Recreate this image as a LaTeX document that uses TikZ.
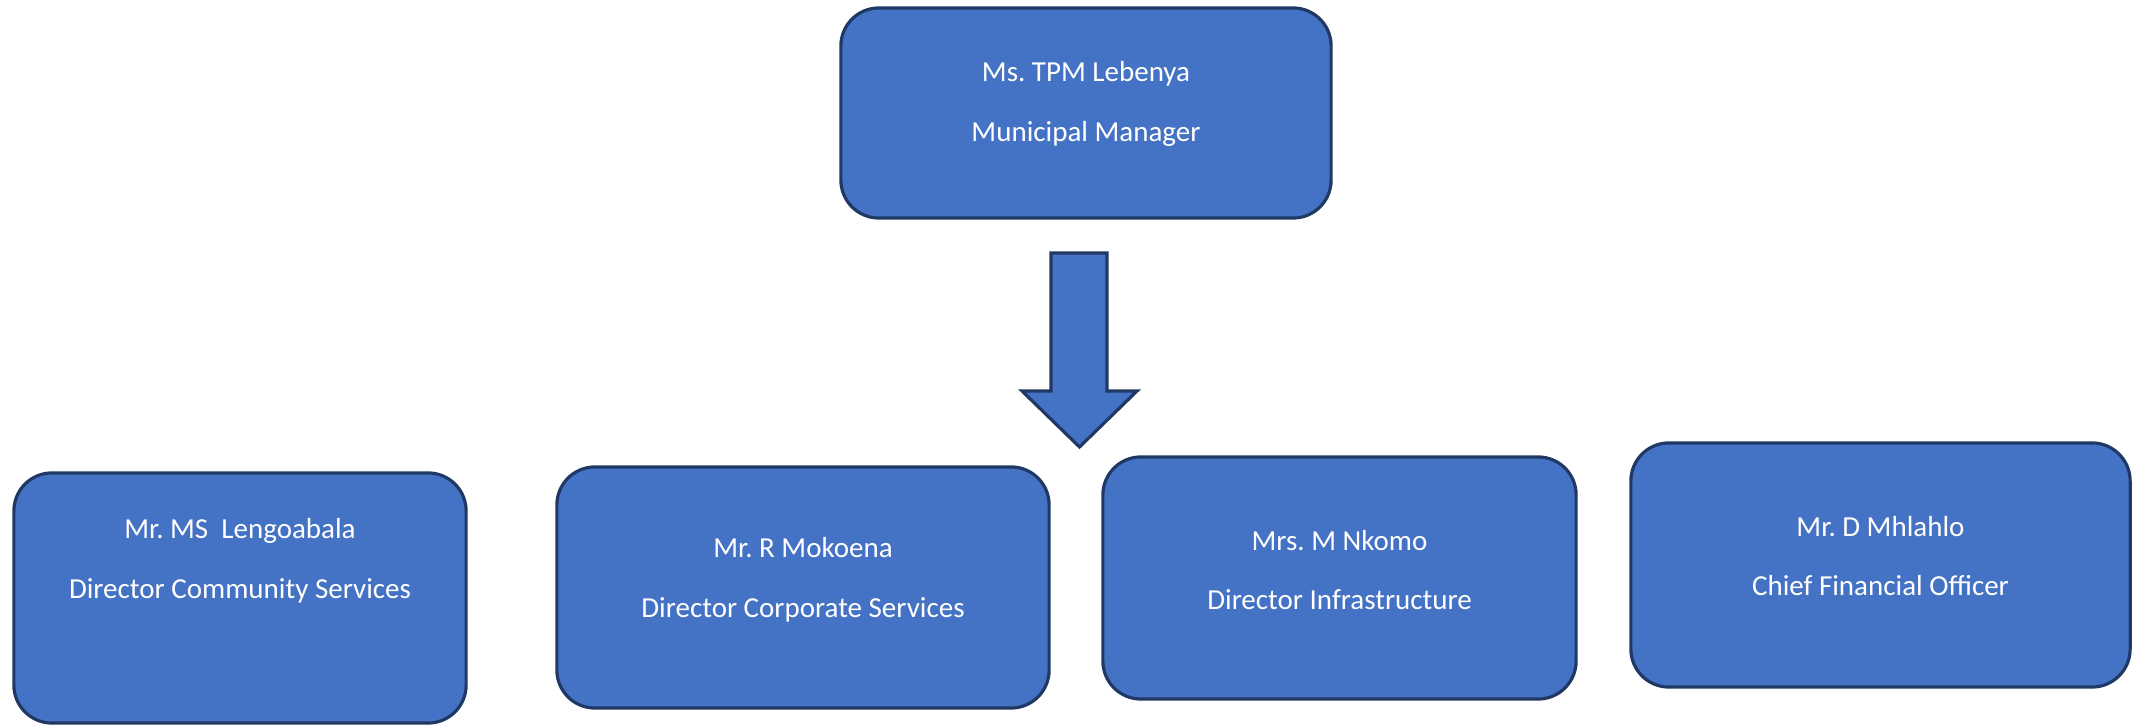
\documentclass[tikz,border=0pt]{standalone}
\usepackage{fontspec}
\setmainfont{Carlito}
\usepackage{tikz}
\usetikzlibrary{positioning, calc}
\definecolor{boxfill}{RGB}{68, 114, 196}
\definecolor{boxline}{RGB}{32, 56, 100}
\frenchspacing

\begin{document}
\begin{tikzpicture}[x=0.01cm, y=-0.01cm, every node/.style={font=\fontsize{8.25}{10}\selectfont}]
    \tikzstyle{postbox} = [draw=boxline, fill=boxfill, line width=0.9pt, rectangle, rounded corners=0.38cm, inner sep=0pt]
    \tikzstyle{posttext} = [text=white, align=center, inner sep=0pt]
    \tikzstyle{blockarrow} = [draw=boxline, fill=boxfill, line width=0.9pt]

    \useasboundingbox (0,0) rectangle (2145,725);

    % Municipal Manager
    \node (mm) [postbox, minimum width=4.90cm, minimum height=2.10cm] at (1086,113) {};
    \node (mmtxt) [posttext] at (1086,104) {Ms. TPM Lebenya\\[7pt]Municipal Manager};

    % Directors
    \node (dcs) [postbox, minimum width=4.52cm, minimum height=2.50cm] at (240,598) {};
    \node (dcstxt) [posttext] at (240,561) {Mr. MS\ \ Lengoabala\\[7pt]Director Community Services};

    \node (dcorp) [postbox, minimum width=4.92cm, minimum height=2.41cm] at (803,587.5) {};
    \node (dcorptxt) [posttext] at (803,580) {Mr. R Mokoena\\[7pt]Director Corporate Services};

    \node (dinf) [postbox, minimum width=4.73cm, minimum height=2.42cm] at (1339.5,578) {};
    \node (dinftxt) [posttext] at (1339.5,570) {Mrs. M Nkomo\\[7pt]Director Infrastructure};

    \node (cfo) [postbox, minimum width=4.99cm, minimum height=2.44cm] at (1880.5,565) {};
    \node (cfotxt) [posttext] at (1880.5,556) {Mr. D Mhlahlo\\[7pt]Chief Financial Officer};

    % Arrow
    \coordinate (atop) at (1079,253);
    \draw [blockarrow] ($(atop)+(-28,0)$) -- ++(56,0) -- ++(0,138) -- ++(30,0) -- ++(-57.5,56)
        -- ++(-57.5,-56) -- ++(29,0) -- cycle;
\end{tikzpicture}
\end{document}
